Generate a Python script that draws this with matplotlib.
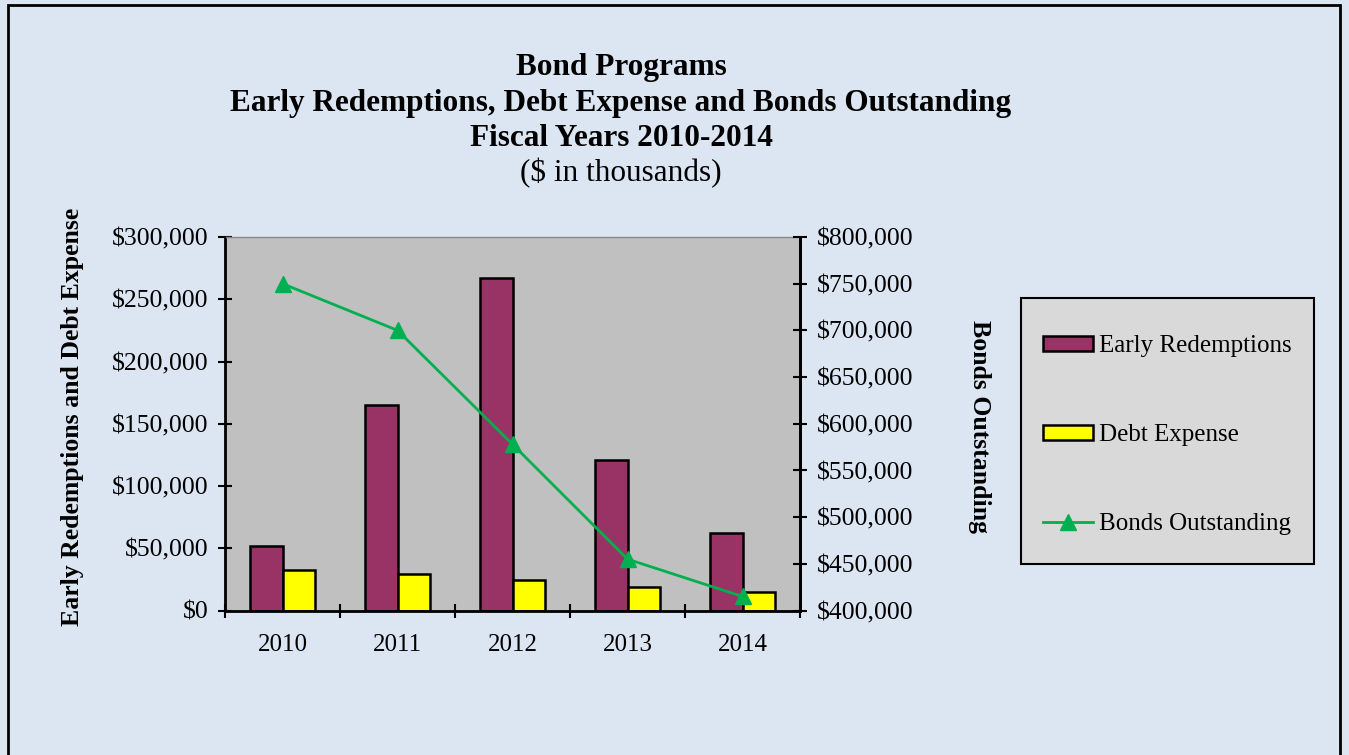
import matplotlib
matplotlib.use("Agg")
import matplotlib.pyplot as plt
import numpy as np
from matplotlib.patches import Rectangle
from matplotlib.ticker import FuncFormatter, MultipleLocator

years = ["2010", "2011", "2012", "2013", "2014"]
early_redemptions = [51500, 165000, 267000, 120500, 62000]
debt_expense = [32500, 29000, 24500, 18500, 15000]
bonds_outstanding = [750000, 700000, 578000, 455000, 415000]

plt.rcParams['font.family'] = ['Liberation Serif', 'DejaVu Serif']

W, H = 1349, 755
fig = plt.figure(figsize=(W/100, H/100), dpi=100)
fig.patch.set_facecolor('#DCE6F2')
fig.add_artist(Rectangle((8/W, -0.05), (1340-8)/W, 1 - 5/H + 0.05,
                         transform=fig.transFigure, fill=False, edgecolor='black', lw=2))

ax = fig.add_axes([225/W, 1-610.5/H, 575/W, (610.5-237)/H])
ax.set_facecolor('#C0C0C0')
x = np.arange(len(years))
w = 0.286
ax.bar(x - w/2, early_redemptions, width=w, color='#993366', edgecolor='black', lw=1.8,
       label='Early Redemptions', zorder=2)
ax.bar(x + w/2, debt_expense, width=w, color='#FFFF00', edgecolor='black', lw=1.8,
       label='Debt Expense', zorder=2)
ax.set_xlim(-0.5, len(years) - 0.5)
ax.set_ylim(0, 300000)
ax.yaxis.set_major_locator(MultipleLocator(50000))
fmt = FuncFormatter(lambda v, p: f"${int(v):,}")
ax.yaxis.set_major_formatter(fmt)
ax.set_xticks(x)
ax.set_xticklabels(years)
ax.set_xticks(np.arange(-0.5, len(years)), minor=True)
ax.tick_params(axis='x', which='major', length=0, pad=17, labelsize=18)
ax.tick_params(axis='x', which='minor', length=10, width=1.5, direction='inout')
ax.tick_params(axis='y', length=10, width=1.5, direction='inout', labelsize=18.5, pad=7)
ax.spines['top'].set_color('#888888')
ax.spines['top'].set_linewidth(1)
for s in ['left', 'bottom', 'right']:
    ax.spines[s].set_linewidth(2)
ax.set_ylabel('Early Redemptions and Debt Expense', fontsize=18.5, fontweight='bold')
ax.yaxis.set_label_coords((84 - 225) / 575, (610.5 - 416.5) / (610.5 - 237))

ax2 = ax.twinx()
ax2.plot(x, bonds_outstanding, color='#00B050', lw=2, marker='^', markersize=12,
         label='Bonds Outstanding', zorder=3)
ax2.set_ylim(400000, 800000)
ax2.yaxis.set_major_locator(MultipleLocator(50000))
ax2.yaxis.set_major_formatter(fmt)
ax2.tick_params(axis='y', length=10, width=1.5, direction='inout', labelsize=18.5, pad=7)
ax2.spines['right'].set_linewidth(2)
ax2.spines['top'].set_visible(False)
ax2.set_ylabel('Bonds Outstanding', fontsize=18.5, fontweight='bold', rotation=-90,
               va='center')
ax2.yaxis.set_label_coords((980 - 225) / 575, (610.5 - 427) / (610.5 - 237))

# legend box
fig.add_artist(Rectangle((1021/W, 1-564/H), (1314-1021)/W, (564-298)/H,
                         transform=fig.transFigure, facecolor='#D9D9D9', edgecolor='black',
                         lw=1.5, zorder=1))
h1, l1 = ax.get_legend_handles_labels()
h2, l2 = ax2.get_legend_handles_labels()
leg = fig.legend(h1 + h2, l1 + l2, loc='center left',
                 bbox_to_anchor=(1023/W, 1-435/H), fontsize=18,
                 frameon=False, labelspacing=2.68, borderpad=0.3, handlelength=2.0,
                 handletextpad=0.25, handleheight=0.55)
leg.set_zorder(2)

cx = 621/W
tfs = 22.5
fig.text(cx, 1-67/H, 'Bond Programs', ha='center', va='center', fontsize=tfs, fontweight='bold')
fig.text(cx, 1-103/H, 'Early Redemptions, Debt Expense and Bonds Outstanding', ha='center',
         va='center', fontsize=tfs, fontweight='bold')
fig.text(cx, 1-138/H, 'Fiscal Years 2010-2014', ha='center', va='center', fontsize=tfs,
         fontweight='bold')
fig.text(cx, 1-173/H, '($ in thousands)', ha='center', va='center', fontsize=tfs)

fig.savefig('out.png', dpi=100, facecolor=fig.get_facecolor())
